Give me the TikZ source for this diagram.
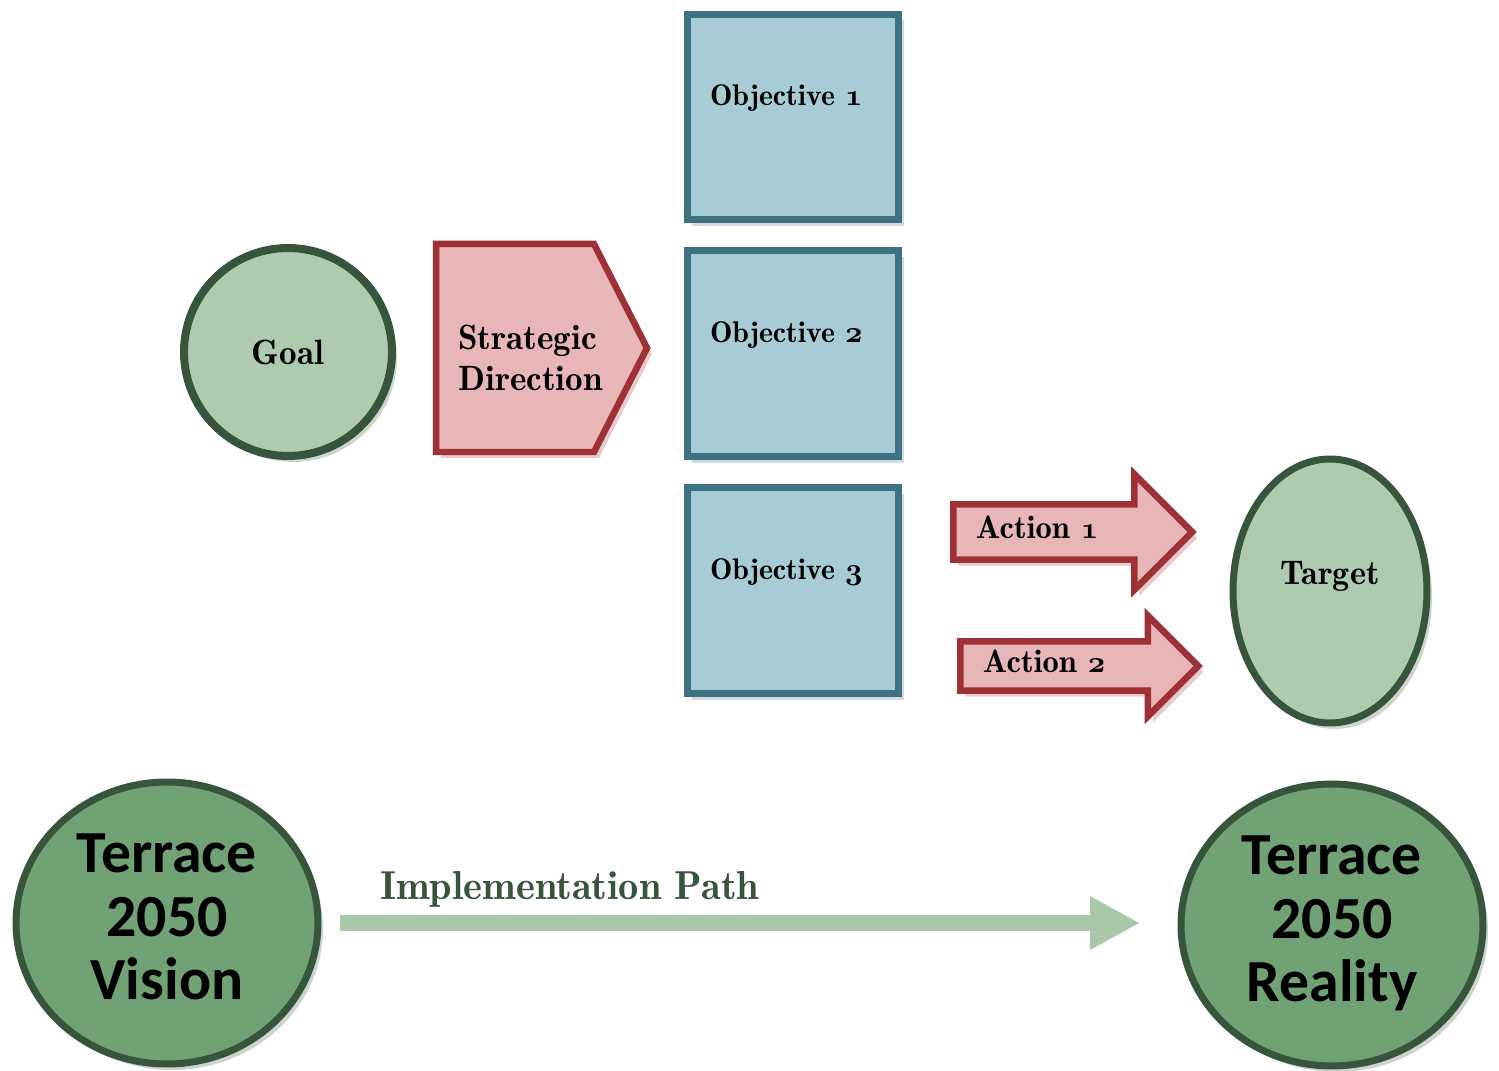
\documentclass[tikz,border=0pt]{standalone}
\usepackage{fontspec}
\newfontfamily\visionfont{Carlito}
\usetikzlibrary{shapes.geometric, shapes.arrows, arrows.meta, shadows}
\definecolor{leafgreen}{HTML}{AECBAF}
\definecolor{mossgreen}{HTML}{70A275}
\definecolor{forestgreen}{HTML}{37553A}
\definecolor{pathgreen}{HTML}{A9C8A9}
\definecolor{rosefill}{HTML}{E8B6B7}
\definecolor{brickred}{HTML}{9E3135}
\definecolor{skyfill}{HTML}{A8CCD6}
\definecolor{tealblue}{HTML}{3E7181}
\newcommand{\labelfont}[1]{\fontseries{b}\fontsize{#1}{1.15\dimexpr#1pt\relax}\selectfont}
\newcommand{\oldnum}[1]{{\fontencoding{OML}\fontfamily{cmm}\fontseries{b}\fontshape{it}\selectfont #1}}
\tikzstyle{goal} = [circle, minimum size=4.16cm, line width=0.16cm, draw=forestgreen, fill=leafgreen, font=\labelfont{20}, drop shadow={shadow xshift=0.1cm, shadow yshift=-0.12cm, fill=forestgreen, opacity=0.25}]
\tikzstyle{directionbox} = [line width=0.13cm, draw=brickred, fill=rosefill, drop shadow={shadow xshift=0.1cm, shadow yshift=-0.12cm, fill=brickred, opacity=0.25}]
\tikzstyle{directiontext} = [inner sep=0pt, align=left, font=\labelfont{20}]
\tikzstyle{objective} = [rectangle, minimum width=4.24cm, minimum height=4.12cm, line width=0.14cm, draw=tealblue, fill=skyfill, inner xsep=0pt, text width=3.32cm, align=left, text height=0.4cm, text depth=0.86cm, font=\labelfont{17}, drop shadow={shadow xshift=0.1cm, shadow yshift=-0.12cm, fill=tealblue, opacity=0.25}]
\tikzstyle{action} = [single arrow, single arrow head indent=0cm, align=left, text height=0.34cm, text depth=0.06cm, line width=0.13cm, draw=brickred, fill=rosefill, font=\labelfont{18.5}, drop shadow={shadow xshift=0.1cm, shadow yshift=-0.12cm, fill=brickred, opacity=0.25}]
\tikzstyle{target} = [ellipse, minimum width=3.88cm, minimum height=5.28cm, line width=0.14cm, draw=forestgreen, fill=leafgreen, text height=0.4cm, text depth=0.66cm, font=\labelfont{19.5}, drop shadow={shadow xshift=0.1cm, shadow yshift=-0.12cm, fill=forestgreen, opacity=0.25}]
\tikzstyle{vision} = [ellipse, minimum width=6.04cm, minimum height=5.64cm, line width=0.14cm, draw=forestgreen, fill=mossgreen, align=center, text depth=0.25cm, font=\visionfont\bfseries\fontsize{34}{36}\selectfont, drop shadow={shadow xshift=0.1cm, shadow yshift=-0.12cm, fill=forestgreen, opacity=0.25}]
\tikzstyle{pathline} = [line width=0.32cm, draw=pathgreen, -{Triangle[length=1cm, width=1cm]}]

\begin{document}
\begin{tikzpicture}[x=0.02cm, y=-0.02cm, node distance=4.74cm]
\useasboundingbox (0,0) rectangle (1499,1071);
% Goal and its direction
\node (goal) [goal] at (288,352) {Goal};
\draw [directionbox] (436,244) -- (594,244) -- (647,348) -- (594,452) -- (436,452) -- cycle;
\node (direction) [directiontext, anchor=west] at (458,358) {Strategic\\Direction};

% Objectives, one above the other
\node (obj1) [objective] at (793,117) {Objective \oldnum{1}};
\node (obj2) [objective, below of=obj1] {Objective \oldnum{2}};
\node (obj3) [objective, below of=obj2] {Objective \oldnum{3}};

% Actions pointing at the target
\node (act1) [action, anchor=tail, minimum height=4.78cm, inner ysep=0.29cm, single arrow head extend=0.6cm, text width=3.32cm] at (950,532) {Action \oldnum{1}};
\node (act2) [action, anchor=tail, minimum height=4.76cm, inner ysep=0.23cm, single arrow head extend=0.51cm, text width=3.36cm] at (957,666) {Action \oldnum{2}};
\node (target) [target] at (1330,591) {Target};

% Vision to reality
\node (vision) [vision] at (167,923) {Terrace\\2050\\Vision};
\node (reality) [vision] at (1332,925) {Terrace\\2050\\Reality};
\draw [pathline, shorten <=0.38cm, shorten >=0.75cm] (vision) -- (vision -| reality.west)
  node (pathlabel) [pos=0.29, above=0.15cm, inner sep=0pt, text=forestgreen, font=\labelfont{23}] {Implementation Path};
\end{tikzpicture}
\end{document}
